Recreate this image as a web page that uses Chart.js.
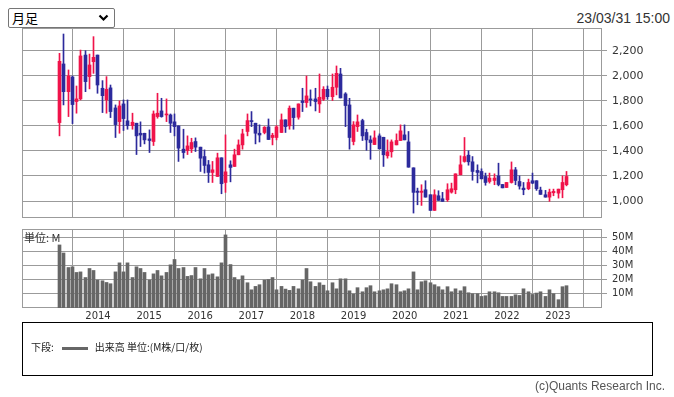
<!DOCTYPE html>
<html lang="ja">
<head>
<meta charset="utf-8">
<script src="https://cdn.jsdelivr.net/npm/chart.js@4.4.0/dist/chart.umd.min.js"></script>
<style>
  html, body { margin:0; padding:0; background:#fff; }
  #wrap { position:relative; width:674px; height:397px; overflow:hidden; color:#333;
          font-family:"DejaVu Sans", sans-serif; }
  #period { position:absolute; left:8px; top:8px; width:107px; height:20px; box-sizing:border-box;
            border:1px solid #767676; border-radius:2px; background:#fff;
            font:13px/18px "Noto Sans CJK JP", sans-serif; color:#000; padding-left:3px; }
  #period svg { position:absolute; right:5px; top:5px; }
  #stamp { position:absolute; right:4px; top:10px; font:14px "Liberation Sans", Arial, sans-serif; color:#333; }
  canvas { position:absolute; left:0; }
  #priceChart { top:0; }
  #volChart { top:224px; }
  #unit { position:absolute; left:24px; top:230px; font:11px "Noto Sans CJK JP", sans-serif; color:#333; line-height:14px; }
  #legendBox { position:absolute; left:22px; top:322px; width:631px; height:54px; border:1px solid #000; box-sizing:border-box;
               font:10px "Noto Sans CJK JP", sans-serif; color:#222; }
  #legendBox .row { position:absolute; left:8px; top:17px; line-height:14px; white-space:nowrap; }
  #legendBox .swatch { display:inline-block; width:26px; height:3px; background:#666; vertical-align:middle; margin:0 7px 0 8px; }
  #copy { position:absolute; right:9px; top:379px; font:12px "Liberation Sans", Arial, sans-serif; color:#555; }
</style>
</head>
<body>
<div id="wrap">
  <div id="period">月足<svg width="11" height="8" viewBox="0 0 11 8"><polyline points="1.5,1.5 5.5,5.5 9.5,1.5" fill="none" stroke="#000" stroke-width="2.2"/></svg></div>
  <div id="stamp">23/03/31 15:00</div>
  <canvas id="priceChart" width="674" height="224"></canvas>
  <canvas id="volChart" width="674" height="100"></canvas>
  <div id="unit">単位: M</div>
  <div id="legendBox"><div class="row">下段:<span class="swatch"></span>出来高 単位:(M株/口/枚)</div></div>
  <div id="copy">(c)Quants Research Inc.</div>
</div>
<script>
// ===== monthly candles, Apr 2013 -> Mar 2023 =====

const START_YEAR = 2013, START_MONTH = 4;

const OPEN  = [1626,2094,1873,1990,1794,1815,2165,1993,2112,2165, 1900,1807,1903,1743,1634,1775,1640,1602,1621,1541,
               1541,1496,1475,1674,1719,1687,1687,1632,1600,1414, 1403,1416,1475,1430,1355,1289,1228,1196,1345,1148,
               1289,1276,1369,1448,1555,1642,1621,1541,1547,1592, 1507,1507,1547,1648,1600,1741,1669,1799,1786,1815,
               1815,1775,1812,1892,1833,1908,2014,1855,1767,1475, 1594,1642,1547,1488,1451,1520,1509,1361,1393,1448,
               1483,1528,1472,1265,1079,1069,1090,1050, 925,1042, 1018,1010,1071,1090,1209,1316,1366,1313,1244,1236,
               1196,1156,1164,1201,1132,1108,1148,1249,1156,1103, 1098,1162,1162,1087,1050,1031,1066,1063,1090,1130];
const HIGH  = [2179,2333,2046,1998,1918,2205,2200,2173,2312,2165, 1961,1993,1926,1767,1799,1807,1807,1701,1621,1632,
               1541,1568,1719,1860,1820,1815,1695,1695,1600,1573, 1520,1501,1504,1430,1408,1324,1316,1382,1345,1528,
               1321,1414,1488,1573,1695,1714,1621,1608,1594,1655, 1541,1602,1695,1648,1759,1741,1775,1900,1998,1887,
               1900,2014,1913,1918,2014,2078,2059,1865,1820,1634, 1687,1653,1573,1520,1560,1536,1509,1488,1488,1536,
               1608,1608,1555,1265,1103,1130,1162,1050,1090,1082, 1069,1138,1143,1217,1361,1507,1401,1355,1289,1257,
               1223,1223,1217,1302,1132,1148,1312,1268,1201,1148, 1175,1223,1162,1111,1085,1095,1095,1095,1201,1236];
const LOW   = [1520,1767,1674,1618,1701,1807,1873,1895,2019,1860, 1706,1701,1666,1507,1541,1563,1573,1573,1371,1435,
               1456,1387,1443,1661,1669,1634,1547,1520,1316,1342, 1371,1387,1395,1236,1223,1148,1148,1196,1058,1069,
               1153,1276,1369,1414,1520,1594,1456,1471,1536,1491, 1448,1488,1547,1547,1573,1573,1653,1714,1748,1759,
               1719,1706,1802,1812,1802,1847,1823,1594,1414,1448, 1555,1483,1405,1333,1451,1416,1276,1342,1350,1448,
               1483,1488,1270, 904, 970, 965,1031, 925, 925,1005,  997, 997,1063,1058,1209,1310,1286,1166,1145,1177,
               1126,1143,1130,1121,1105,1108,1143,1130,1095,1050, 1090,1138,1085,1053,1031, 997,1042,1023,1026,1121];
const CLOSE = [2115,1873,1998,1770,1815,2158,1953,2086,2147,1926, 1841,1892,1714,1610,1759,1658,1602,1629,1520,1527,
               1488,1483,1695,1701,1674,1695,1621,1594,1422,1387, 1440,1467,1430,1342,1284,1228,1249,1345,1138,1233,
               1268,1369,1448,1536,1642,1634,1541,1527,1589,1491, 1525,1592,1648,1594,1741,1666,1775,1786,1839,1807,
               1794,1828,1892,1833,1908,2019,1823,1762,1507,1608, 1632,1520,1488,1467,1504,1416,1369,1393,1472,1483,
               1560,1488,1270,1069,1069,1079,1031, 925,1050,1005,  997,1090,1098,1217,1289,1355,1313,1236,1228,1177,
               1148,1183,1183,1132,1105,1148,1249,1164,1119,1090, 1148,1143,1098,1053,1031,1071,1077,1095,1148,1196];
// volume, millions of shares
const VOLUME = [44.7,39.0,28.7,29.2,25.2,25.6,21.6,28.0,26.6,19.8, 19.3,18.1,17.2,25.6,32.0,25.6,32.0,21.6,29.2,28.0,
                25.2,19.8,24.2,26.6,22.8,25.2,30.6,34.4,28.0,28.7, 22.4,23.0,28.7,20.7,28.0,23.5,24.2,22.1,32.0,51.8,
                30.8,21.6,19.8,22.8,17.9,12.9,15.3,16.5,19.8,20.2, 21.6,12.9,15.3,13.4,12.5,15.3,13.6,19.8,28.0,18.6,
                15.3,17.9,16.2,12.2,17.9,13.6,20.7,20.7,12.2, 9.9, 14.4,11.5,14.4,15.8,11.5,12.2,12.9,13.6,17.2,16.5,
                11.5,12.2,13.6,25.6,12.9,18.6,19.3,17.9,16.5,15.1, 12.9,15.1,11.5,13.6,12.2,15.1,10.8,10.1,10.1, 8.2,
                 8.7,11.5,11.5,10.8, 8.2, 8.2, 8.2, 9.4, 8.9,13.6, 11.5, 9.6,10.6,11.5, 8.2,12.9,10.1, 5.9,15.1,15.8];

const PRICE_TICKS = [1000,1200,1400,1600,1800,2000,2200];
const VOL_TICKS   = [10,20,30,40,50];

const UP = '#f0134a', DOWN = '#2c2a9c', VOLCOL = '#666666', GRID = '#9b9b9b', TXT = '#333';

// month labels like 2013/04
const MONTHS = [];
for (let i = 0; i < OPEN.length; i++) {
  const m = START_MONTH - 1 + i;
  MONTHS.push((START_YEAR + Math.floor(m / 12)) + '/' + String(m % 12 + 1).padStart(2, '0'));
}
const YEAR_IDX = MONTHS.map((m, i) => m.endsWith('/01') ? i : -1).filter(i => i >= 0);

const X_MIN = -8.84, X_MAX = 127.33;
const FONT = { family:'"DejaVu Sans", sans-serif', size:10 };
const PFONT = { family:'"DejaVu Sans", sans-serif', size:11 };

const frame = {
  id:'frame',
  beforeDatasetsDraw(chart) {
    const { ctx, chartArea:a } = chart;
    ctx.save();
    ctx.strokeStyle = GRID; ctx.lineWidth = 1;
    ctx.strokeRect(Math.round(a.left) + 0.5, Math.round(a.top) + 0.5,
                   Math.round(a.right - a.left) - 1, Math.round(a.bottom - a.top) - 1);
    ctx.restore();
  }
};

// snap bar centres to half pixels so 1px wicks / 3px bodies stay crisp
const crisp = {
  id:'crisp',
  afterDatasetsUpdate(chart) {
    chart.data.datasets.forEach((d, di) => {
      chart.getDatasetMeta(di).data.forEach(el => { el.x = Math.floor(el.x) + 0.5; });
    });
  }
};

// keep the plot box fixed: no label overhang padding
const fixY = s => { s.width = 72; s.paddingTop = 0; s.paddingBottom = 0; };
const fixX = h => s => { s.height = h; s.paddingLeft = 0; s.paddingRight = 0; };
const yearTicks = scale => { scale.ticks = YEAR_IDX.map(v => ({ value:v })); };
const colors = MONTHS.map((m, i) => CLOSE[i] >= OPEN[i] ? UP : DOWN);

new Chart(document.getElementById('priceChart'), {
  type:'bar',
  data:{
    datasets:[
      { label:'body', order:0, grouped:false, barThickness:3, minBarLength:1,
        data: MONTHS.map((m, i) => ({ x:i, y:[Math.min(OPEN[i], CLOSE[i]), Math.max(OPEN[i], CLOSE[i])] })),
        backgroundColor:colors, borderWidth:0 },
      { label:'wick', order:1, grouped:false, barThickness:1,
        data: MONTHS.map((m, i) => ({ x:i, y:[LOW[i], HIGH[i]] })),
        backgroundColor:colors, borderWidth:0 }
    ]
  },
  options:{
    responsive:false, animation:false, devicePixelRatio:1, events:[],
    layout:{ padding:{ left:22, top:28, right:0, bottom:0 } },
    plugins:{ legend:{ display:false }, tooltip:{ enabled:false } },
    scales:{
      x:{ type:'linear', min:X_MIN, max:X_MAX, offset:false,
          afterBuildTicks: yearTicks, afterFit: fixX(6),
          ticks:{ display:false }, border:{ display:false },
          grid:{ color:GRID, drawTicks:false } },
      y:{ position:'right', min:864.5, max:2381,
          afterBuildTicks: s => { s.ticks = PRICE_TICKS.map(v => ({ value:v })); },
          afterFit: fixY,
          border:{ display:false },
          grid:{ color:GRID, tickLength:5 },
          ticks:{ color:TXT, font:PFONT, padding:5, callback: v => v.toLocaleString('en-US') } }
    }
  },
  plugins:[frame, crisp]
});

new Chart(document.getElementById('volChart'), {
  type:'bar',
  data:{
    datasets:[{ label:'出来高', barThickness:3, backgroundColor:VOLCOL, borderWidth:0,
                data: MONTHS.map((m, i) => ({ x:i, y:VOLUME[i] })) }]
  },
  options:{
    responsive:false, animation:false, devicePixelRatio:1, events:[],
    layout:{ padding:{ left:22, top:5, right:0, bottom:0 } },
    plugins:{ legend:{ display:false }, tooltip:{ enabled:false } },
    scales:{
      x:{ type:'linear', min:X_MIN, max:X_MAX, offset:false,
          afterBuildTicks: yearTicks, afterFit: fixX(16),
          border:{ display:false },
          grid:{ color:GRID, drawTicks:false },
          ticks:{ color:TXT, font:FONT, padding:2, maxRotation:0, autoSkip:false,
                  callback: v => MONTHS[v].slice(0, 4) } },
      y:{ position:'right', min:0, max:56,
          afterBuildTicks: s => { s.ticks = VOL_TICKS.map(v => ({ value:v })); },
          afterFit: fixY,
          border:{ display:false },
          grid:{ color:GRID, tickLength:5 },
          ticks:{ color:TXT, font:FONT, padding:5, callback: v => v + 'M' } }
    }
  },
  plugins:[frame, crisp]
});
</script>
</body>
</html>
